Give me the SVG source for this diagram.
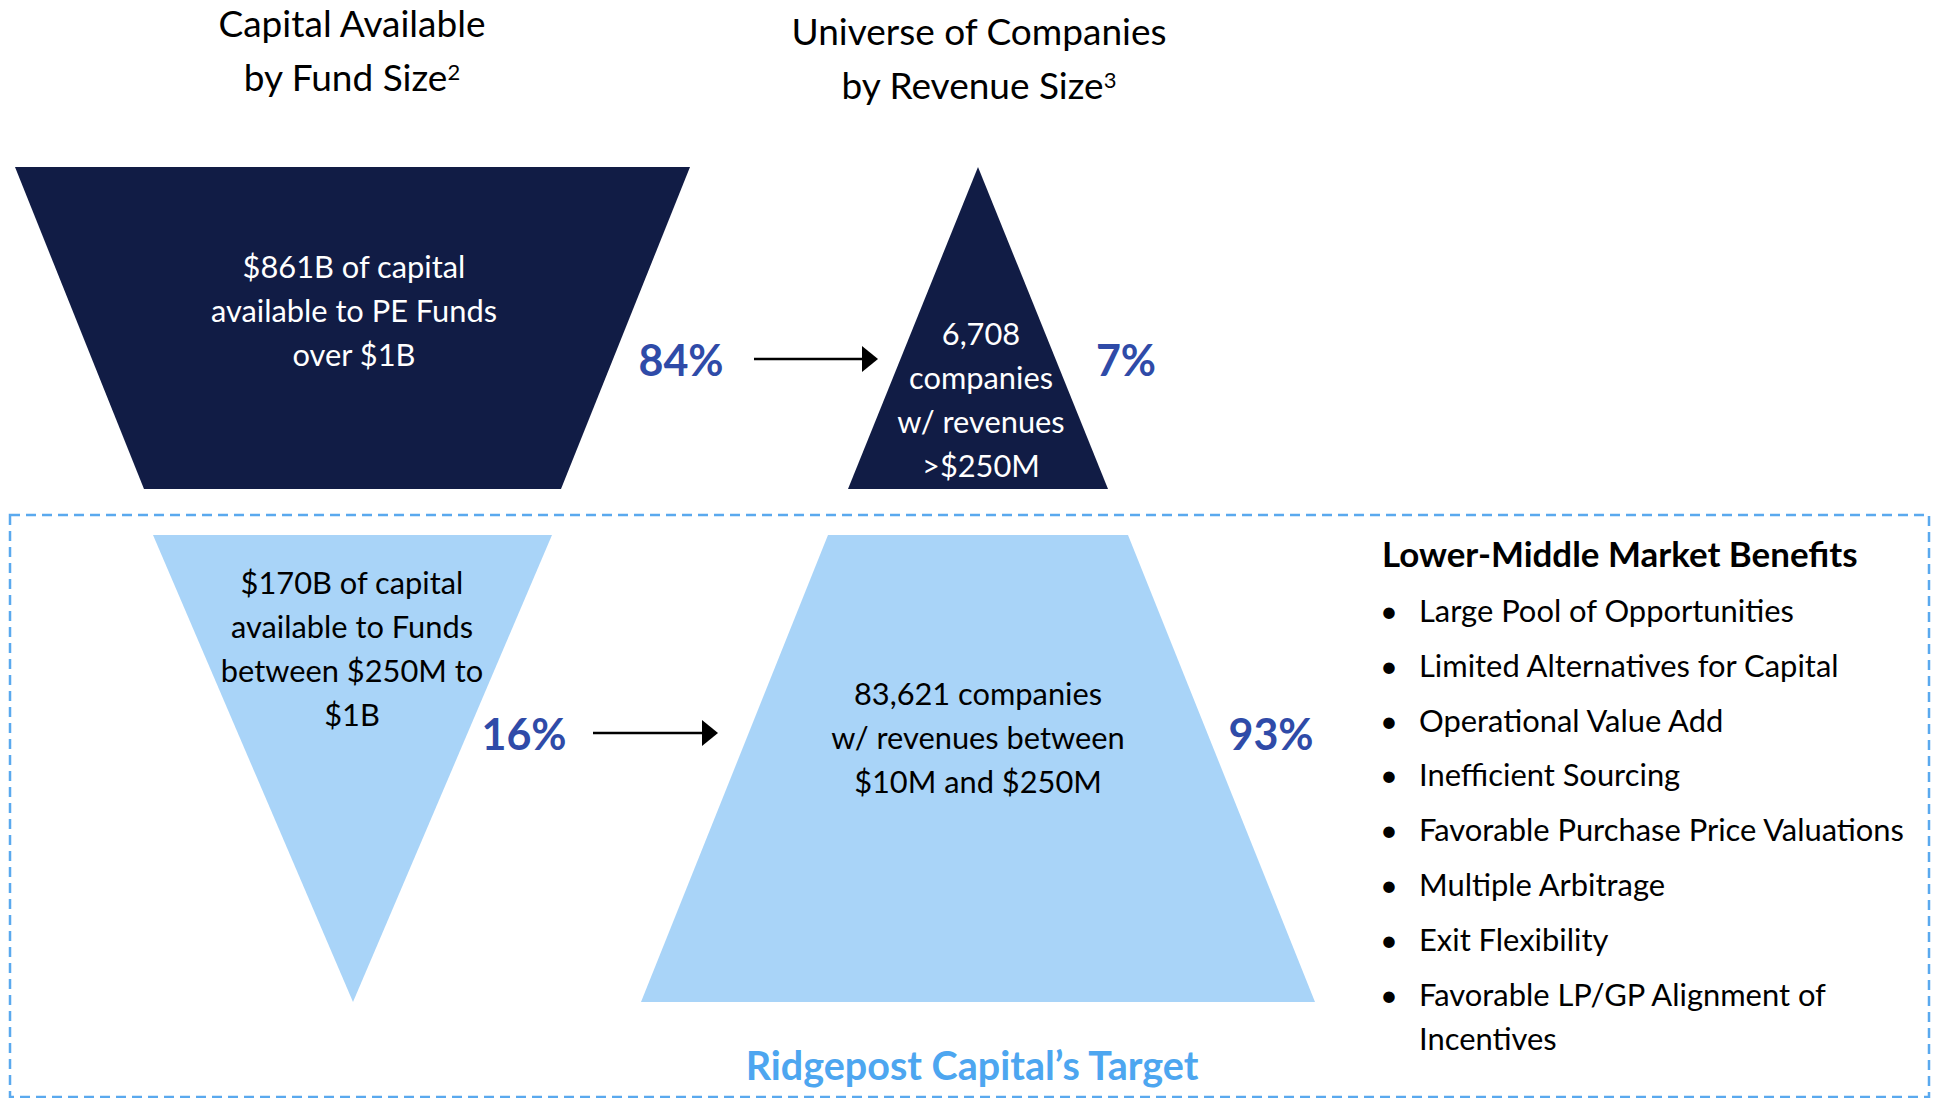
<svg xmlns="http://www.w3.org/2000/svg" width="1939" height="1098" viewBox="0 0 1939 1098">
<defs>
<style>
text{font-family:Lato,"Noto Sans",sans-serif;}
.title{font-size:37px;fill:#000;text-anchor:middle;}
.wt{font-size:30.8px;fill:#fff;text-anchor:middle;}
.bt{font-size:30.8px;fill:#000;text-anchor:middle;}
.pct{font-size:43px;font-weight:bold;fill:#2F4BA8;text-anchor:middle;}
.navy{fill:#111C45;}
.light{fill:#A9D4F8;}
.arrow{stroke:#000;stroke-width:2.5;fill:none;}
.head{fill:#000;}
.bul{font-size:30.9px;fill:#000;}
.hdr{font-size:34.9px;font-weight:bold;fill:#000;}
.target{font-size:39.5px;font-weight:bold;fill:#4DA6F0;text-anchor:middle;}
.frame{fill:none;stroke:#5AA9EE;stroke-width:2.5;stroke-dasharray:10 6;}
</style>
</defs>
<rect width="1939" height="1098" fill="#fff"/>

<g id="titles">
<text class="title" x="352" y="37">Capital Available</text>
<text class="title" x="352" y="91">by Fund Size<tspan font-size="22" dy="-11">2</tspan></text>
<text class="title" x="979" y="45">Universe of Companies</text>
<text class="title" x="979" y="99">by Revenue Size<tspan font-size="22" dy="-11">3</tspan></text>
</g>

<g id="target-frame">
<rect class="frame" x="10" y="515" width="1919" height="582"/>
<text class="target" x="972" y="1080">Ridgepost Capital’s Target</text>
</g>

<g id="node-large-funds">
<polygon class="navy" points="15,167 690,167 561,489 144,489"/>
<text class="wt" x="354" y="278">$861B of capital</text>
<text class="wt" x="354" y="322">available to PE Funds</text>
<text class="wt" x="354" y="366">over $1B</text>
</g>
<text class="pct" x="681" y="376">84%</text>

<g id="node-large-companies">
<polygon class="navy" points="978,167 1108,489 848,489"/>
<text class="wt" x="981" y="345">6,708</text>
<text class="wt" x="981" y="389">companies</text>
<text class="wt" x="981" y="433">w/ revenues</text>
<text class="wt" x="981" y="477">&gt;$250M</text>
</g>
<text class="pct" x="1126" y="376">7%</text>

<g id="node-lmm-funds">
<polygon class="light" points="153,535 552,535 353,1002"/>
<text class="bt" x="352" y="594">$170B of capital</text>
<text class="bt" x="352" y="638">available to Funds</text>
<text class="bt" x="352" y="682">between $250M to</text>
<text class="bt" x="352" y="726">$1B</text>
</g>
<text class="pct" x="524" y="750">16%</text>

<g id="node-lmm-companies">
<polygon class="light" points="828,535 1128,535 1315,1002 641,1002"/>
<text class="bt" x="978" y="705">83,621 companies</text>
<text class="bt" x="978" y="749">w/ revenues between</text>
<text class="bt" x="978" y="793">$10M and $250M</text>
</g>
<text class="pct" x="1271" y="750">93%</text>

<g id="connectors">
<line class="arrow" x1="754" y1="359" x2="864" y2="359"/>
<polygon class="head" points="862,346 878,359 862,372"/>
<line class="arrow" x1="593" y1="733" x2="704" y2="733"/>
<polygon class="head" points="702,720 718,733 702,746"/>
</g>

<g id="benefits">
<text class="hdr" x="1382" y="567">Lower-Middle Market Benefits</text>
<g class="bul">
<text x="1380" y="622">•</text><text x="1419" y="622">Large Pool of Opportunities</text>
<text x="1380" y="677">•</text><text x="1419" y="677">Limited Alternatives for Capital</text>
<text x="1380" y="732">•</text><text x="1419" y="732">Operational Value Add</text>
<text x="1380" y="786">•</text><text x="1419" y="786">Inefficient Sourcing</text>
<text x="1380" y="841">•</text><text x="1419" y="841">Favorable Purchase Price Valuations</text>
<text x="1380" y="896">•</text><text x="1419" y="896">Multiple Arbitrage</text>
<text x="1380" y="951">•</text><text x="1419" y="951">Exit Flexibility</text>
<text x="1380" y="1006">•</text><text x="1419" y="1006">Favorable LP/GP Alignment of</text>
<text x="1419" y="1050">Incentives</text>
</g>
</g>
</svg>
